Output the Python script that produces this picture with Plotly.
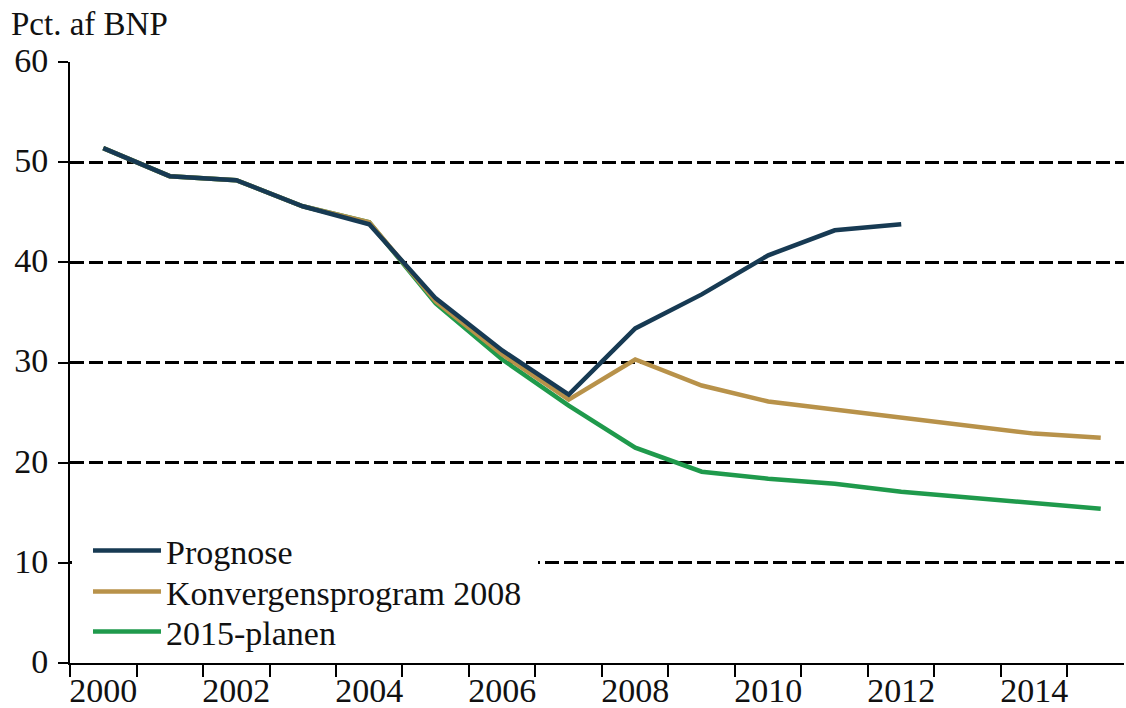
import plotly.graph_objects as go

years_prog = list(range(2000, 2013))
prognose = [51.4, 48.6, 48.2, 45.6, 43.8, 36.4, 31.2, 26.8, 33.4, 36.8, 40.7, 43.2, 43.8]

years_full = list(range(2000, 2016))
konvergens = [51.4, 48.6, 48.2, 45.6, 44.0, 36.1, 30.8, 26.3, 30.3, 27.7, 26.1, 25.3, 24.4, 23.6, 22.9, 22.5]
plan2015 = [51.4, 48.6, 48.2, 45.6, 44.0, 35.9, 30.3, 25.7, 21.5, 19.1, 18.4, 17.9, 17.1, 16.5, 15.9, 15.4]

x_tick_vals = [2000, 2002, 2004, 2006, 2008, 2010, 2012, 2014]
x_tick_text = ["2000", "2002", "2004", "2006", "2008", "2010", "2012", "2014"]
y_tick_vals = [0, 10, 20, 30, 40, 50, 60]

names = ["Prognose", "Konvergensprogram 2008", "2015-planen"]
colors = ["#173a53", "#b8924a", "#1f9a4c"]

FONT = "Liberation Serif"
W, H = 1126, 708
PL, PR, PT, PB = 70, 1124, 62, 663  # plot area in window pixels
ML, MR, MT, MB = PL, W - PR, PT, H - PB
PW, PH = PR - PL, PB - PT


def py(p):
    return (PB - p) / PH


def px(p):
    return (p - PL) / PW


fig = go.Figure()
fig.add_trace(go.Scatter(x=years_full, y=plan2015, mode="lines", name=names[2],
                         line=dict(color=colors[2], width=4.5), legend="legend3"))
fig.add_trace(go.Scatter(x=years_full, y=konvergens, mode="lines", name=names[1],
                         line=dict(color=colors[1], width=4.5), legend="legend2"))
fig.add_trace(go.Scatter(x=years_prog, y=prognose, mode="lines", name=names[0],
                         line=dict(color=colors[0], width=4.5), legend="legend"))

leg_common = dict(font=dict(family=FONT, size=34, color="#111"), bgcolor="rgba(0,0,0,0)",
                  xanchor="left", yanchor="middle", itemwidth=68, borderwidth=0)

fig.update_layout(
    width=W, height=H,
    margin=dict(l=ML, r=MR, t=MT, b=MB),
    paper_bgcolor="white", plot_bgcolor="white",
    font=dict(family=FONT, size=34, color="#111"),
    showlegend=True,
    legend=dict(x=px(88), y=py(551), **leg_common),
    legend2=dict(x=px(88), y=py(592), **leg_common),
    legend3=dict(x=px(88), y=py(632), **leg_common),
    xaxis=dict(
        range=[1999.5, 2015.35], automargin=False,
        tickmode="array", tickvals=x_tick_vals, ticktext=x_tick_text,
        ticks="", showgrid=False, zeroline=False,
        showline=True, linecolor="black", linewidth=2,
        tickfont=dict(family=FONT, size=34, color="#111"),
        ticklabelstandoff=-4,
        minor=dict(tickmode="linear", tick0=1999.5, dtick=1, ticks="outside",
                   ticklen=12, tickwidth=2, tickcolor="black", showgrid=False),
    ),
    yaxis=dict(
        range=[0, 60], tickmode="array", tickvals=y_tick_vals, automargin=False,
        ticks="outside", ticklen=10, tickwidth=2, tickcolor="black",
        showgrid=True, gridcolor="black", gridwidth=2.5, griddash="14px,5px",
        zeroline=False, showline=True, linecolor="black", linewidth=2,
        tickfont=dict(family=FONT, size=34, color="#111"),
        ticklabelstandoff=3, ticklabelshift=-2,
    ),
    shapes=[dict(type="rect", xref="paper", yref="paper",
                 x0=px(72), x1=px(538), y0=py(652), y1=py(528),
                 fillcolor="white", line=dict(width=0), layer="above")],
    annotations=[dict(text="Pct. af BNP", xref="paper", yref="paper", x=0, y=1,
                      xanchor="left", yanchor="bottom", xshift=-61, yshift=18,
                      showarrow=False, font=dict(family=FONT, size=33, color="#111"))],
)

fig.write_html(
    "out.html",
    config={"displayModeBar": False},
    post_script="document.body.style.margin='0';document.body.style.padding='0';",
)
